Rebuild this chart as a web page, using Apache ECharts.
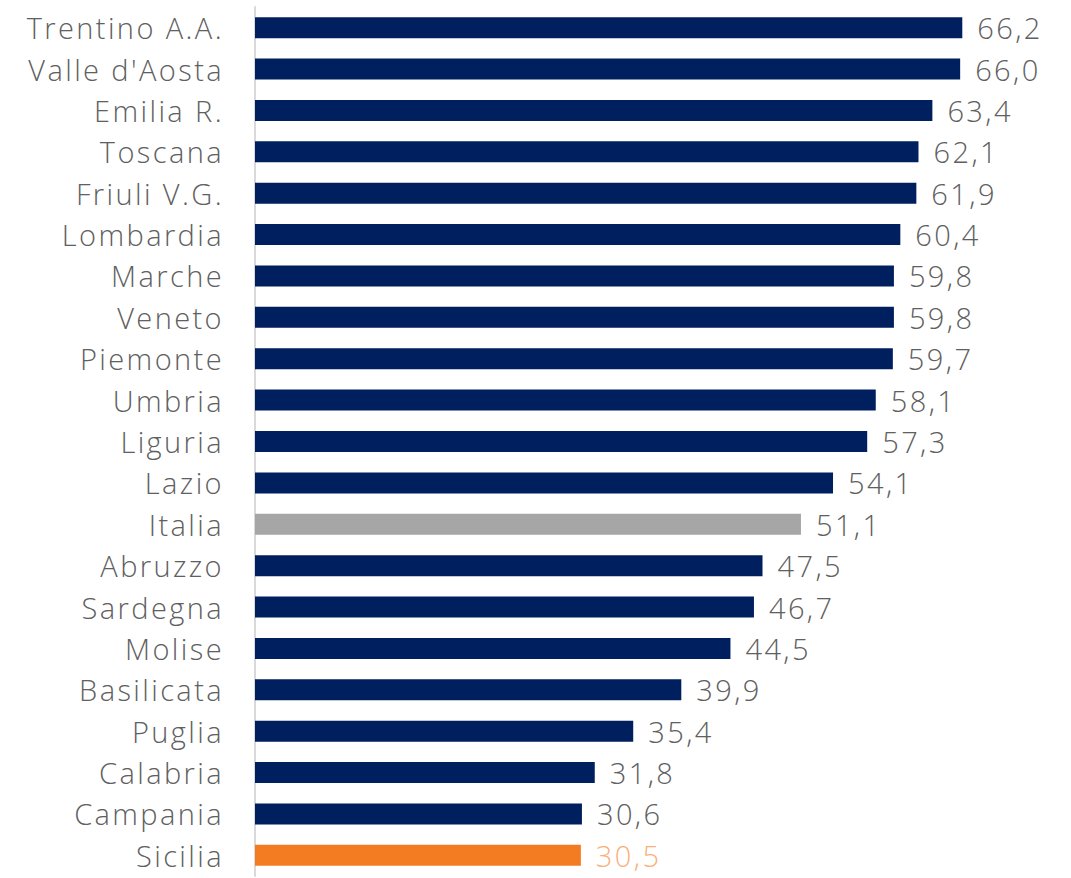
<!DOCTYPE html>
<html>
<head>
<meta charset="utf-8">
<script src="https://cdn.jsdelivr.net/npm/echarts@6/dist/echarts.min.js"></script>
<style>
  html, body { margin: 0; padding: 0; background: #fff; }
  #chart { width: 1071px; height: 878px; }
  /* Montserrat-like wide tracking for the thin labels */
  #chart text { letter-spacing: 2.4px; }
</style>
</head>
<body>
<div id="chart"></div>
<script>
const regions = ["Trentino A.A.", "Valle d'Aosta", "Emilia R.", "Toscana", "Friuli V.G.", "Lombardia", "Marche", "Veneto", "Piemonte", "Umbria", "Liguria", "Lazio", "Italia", "Abruzzo", "Sardegna", "Molise", "Basilicata", "Puglia", "Calabria", "Campania", "Sicilia"];
const values = [66.2, 66.0, 63.4, 62.1, 61.9, 60.4, 59.8, 59.8, 59.7, 58.1, 57.3, 54.1, 51.1, 47.5, 46.7, 44.5, 39.9, 35.4, 31.8, 30.6, 30.5];

const NAVY = '#001f5e';
const GREY = '#a6a6a6';
const ORANGE = '#f37c22';
const FONT = '"Open Sans", sans-serif';

function barColor(name) {
  if (name === 'Italia') return GREY;
  if (name === 'Sicilia') return ORANGE;
  return NAVY;
}

const chart = echarts.init(document.getElementById('chart'), null, { renderer: 'svg' });

const option = {
  animation: false,
  grid: { left: 255, right: 4, top: 7, bottom: 2 },
  xAxis: {
    type: 'value',
    min: 0,
    max: 76,
    show: false
  },
  yAxis: {
    type: 'category',
    inverse: true,
    data: regions,
    axisLine: { show: true, lineStyle: { color: '#d9d9d9', width: 2 } },
    axisTick: { show: false },
    axisLabel: {
      margin: 31,
      fontFamily: FONT,
      fontWeight: 300,
      fontSize: 29,
      color: '#606060'
    }
  },
  series: [{
    type: 'bar',
    barWidth: 21,
    data: values.map((v, i) => ({
      value: v,
      itemStyle: { color: barColor(regions[i]) },
      label: regions[i] === 'Sicilia' ? { color: '#f8b17c' } : undefined
    })),
    label: {
      show: true,
      position: 'right',
      distance: 15,
      fontFamily: FONT,
      fontWeight: 300,
      fontSize: 29,
      color: '#606060',
      formatter: p => p.value.toFixed(1).replace('.', ',')
    }
  }]
};

chart.setOption(option);
</script>
</body>
</html>
